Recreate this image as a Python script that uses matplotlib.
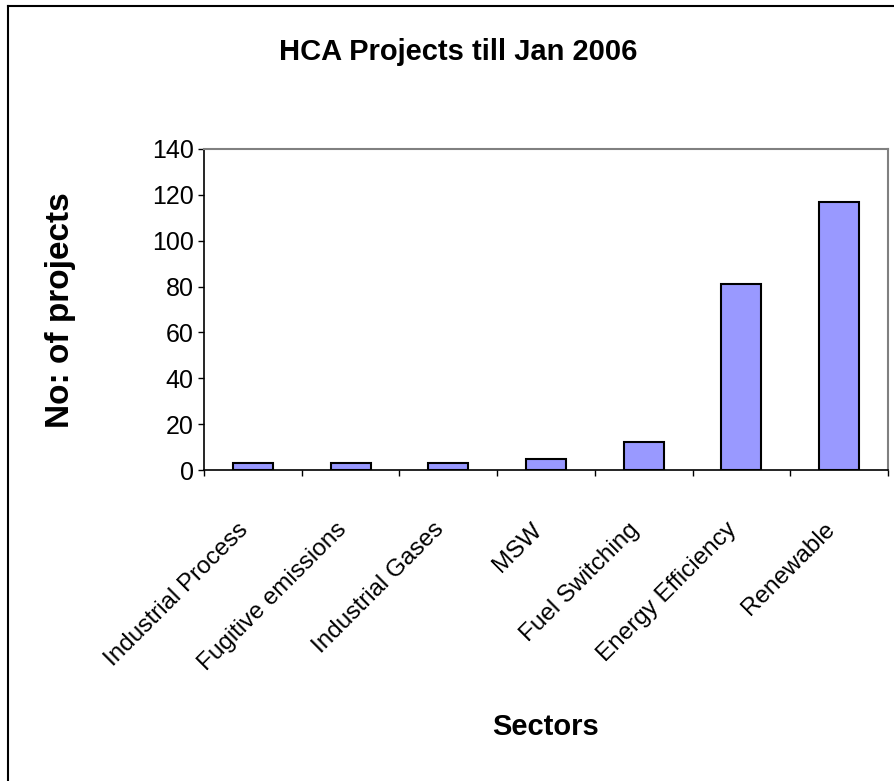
import matplotlib.pyplot as plt
import numpy as np
from matplotlib.lines import Line2D

sectors = ["Industrial Process", "Fugitive emissions", "Industrial Gases", "MSW",
           "Fuel Switching", "Energy Efficiency", "Renewable"]
projects = [3, 3, 3, 5, 12, 81, 117]
y_ticks = [0, 20, 40, 60, 80, 100, 120, 140]

plt.rcParams['font.family'] = ['Liberation Sans', 'DejaVu Sans']

W, H = 894, 781
fig = plt.figure(figsize=(W / 100, H / 100), dpi=100)
ax = fig.add_axes([204 / W, 1 - 470 / H, (888 - 204) / W, (470 - 149) / H])

x = np.arange(len(sectors))
ax.bar(x, projects, 0.41, color='#9999ff', edgecolor='black', linewidth=1.5, zorder=3)

ax.set_xlim(-0.5, len(sectors) - 0.5)
ax.set_ylim(0, 140)
ax.set_yticks(y_ticks)
ax.tick_params(axis='y', direction='out', length=4.5, width=1, labelsize=18, pad=3)

# labels at category centres, tick marks between categories
ax.set_xticks(x)
ax.set_xticklabels(sectors, rotation=45, ha='right', fontsize=17.5)
ax.tick_params(axis='x', which='major', length=0, pad=35)
ax.set_xticks(np.arange(-0.5, len(sectors)), minor=True)
ax.tick_params(axis='x', which='minor', direction='out', length=4.5, width=1)

for side in ['left', 'bottom']:
    ax.spines[side].set_color('black')
    ax.spines[side].set_linewidth(1.2)
for side in ['top', 'right']:
    ax.spines[side].set_color('#808080')
    ax.spines[side].set_linewidth(1.5)

fig.text(458 / W, 1 - 52 / H, "HCA Projects till Jan 2006", ha='center', va='center',
         fontsize=21, fontweight='bold')
fig.text(546 / W, 1 - 727 / H, "Sectors", ha='center', va='center',
         fontsize=21, fontweight='bold')
fig.text(60 / W, 1 - 310 / H, "No: of projects", ha='center', va='center',
         rotation=90, fontsize=24, fontweight='bold')

# chart area border (only left and top edges are inside the image)
fig.add_artist(Line2D([8 / W, 8 / W], [0, 1 - 6 / H], color='black', linewidth=1.5))
fig.add_artist(Line2D([8 / W, 1], [1 - 6 / H, 1 - 6 / H], color='black', linewidth=1.5))

plt.savefig("out.png", dpi=100)
